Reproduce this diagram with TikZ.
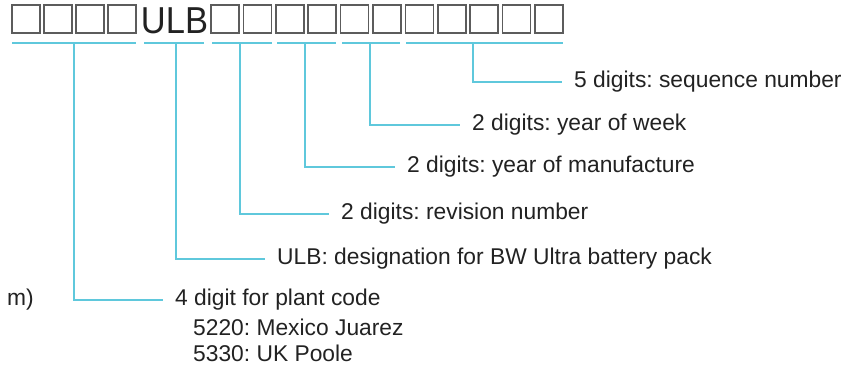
\documentclass[tikz,border=0pt]{standalone}
\usepackage{fontspec}
\setmainfont{Liberation Sans}
\usepackage{graphicx}
\frenchspacing
\definecolor{leadcyan}{HTML}{5FC8DC}
\definecolor{cellgray}{HTML}{5C5C5C}
\definecolor{txtgray}{HTML}{222222}

\begin{document}
\begin{tikzpicture}[x=1pt, y=-1pt,
    cell/.style={draw=cellgray, line width=1.6pt},
    lead/.style={draw=leadcyan, line width=2.5pt},
    lbl/.style={anchor=west, inner xsep=12pt, inner ysep=0pt, text=txtgray,
                font=\fontsize{22.8}{26.5}\selectfont},
    sub/.style={anchor=west, inner sep=0pt, text=txtgray,
                font=\fontsize{22.8}{26.5}\selectfont}]

    % Frame of the picture
    \useasboundingbox (0,0) rectangle (864,370);

    % Character cells of the serial number
    \foreach \i in {0,...,3}
        \draw[cell] ({12+32*\i},5) rectangle +(28,28);
    \node[anchor=base, inner sep=0pt, text=txtgray,
          font=\fontsize{37.5}{40}\selectfont] (ulbtag) at (174.5,33) {\scalebox{0.92}[1]{ULB}};
    \foreach \i in {0,...,10}
        \draw[cell] ({211+32.4*\i},5) rectangle +(28,28);

    % Underlines of the groups
    \foreach \a/\b in {12/136, 144/204, 212/272, 277/336, 342/400, 406/563}
        \draw[lead] (\a,43) -- (\b,43);

    % Tap points on the underlines
    \coordinate (tPlant) at (74,43);
    \coordinate (tUlb) at (176,43);
    \coordinate (tRev) at (240,43);
    \coordinate (tYear) at (305,43);
    \coordinate (tWeek) at (370,43);
    \coordinate (tSeq) at (473,43);

    % Labels
    \node[lbl] (seq) at (562,82) {5 digits: sequence number};
    \node[lbl] (week) at (460,125) {2 digits: year of week};
    \node[lbl] (year) at (395,167) {2 digits: year of manufacture};
    \node[lbl] (rev) at (329,214) {2 digits: revision number};
    \node[lbl] (ulb) at (265,259) {ULB: designation for BW Ultra battery pack};
    \node[lbl] (plant) at (163,300) {4 digit for plant code};
    \node[sub] (mexico) at (193,327) {5220: Mexico Juarez};
    \node[sub] (poole) at (193,353) {5330: UK Poole};
    \node[sub] (cut) at (7,300) {m)}; % cut-off text at the left edge

    % Leaders from the groups to their labels
    \draw[lead] (tSeq) |- (seq.west);
    \draw[lead] (tWeek) |- (week.west);
    \draw[lead] (tYear) |- (year.west);
    \draw[lead] (tRev) |- (rev.west);
    \draw[lead] (tUlb) |- (ulb.west);
    \draw[lead] (tPlant) |- (plant.west);

\end{tikzpicture}
\end{document}
